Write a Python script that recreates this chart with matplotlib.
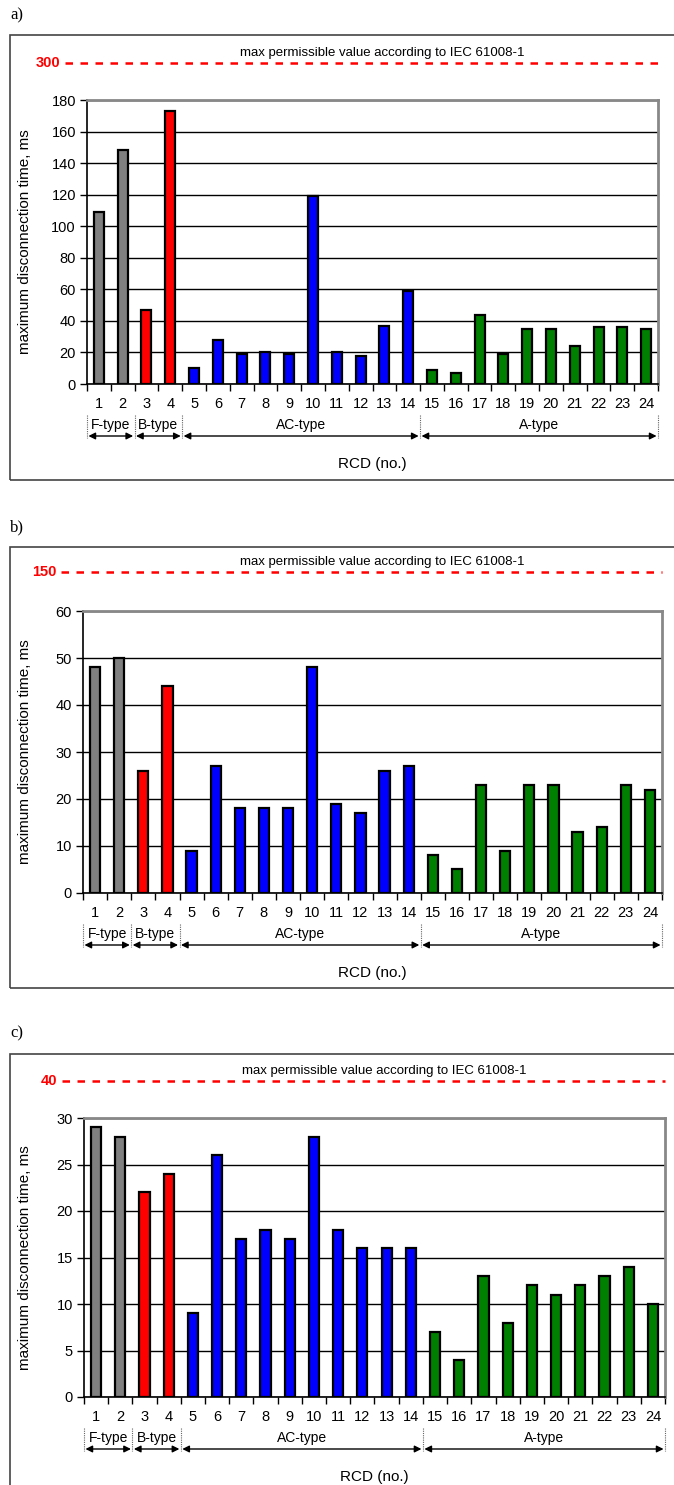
import numpy as np
import matplotlib.pyplot as plt
from matplotlib.patches import Rectangle

rcd = list(range(1, 25))
times_a = [109, 148, 47, 173, 10, 28, 19, 20, 19, 119, 20, 18, 37, 59,
           9, 7, 44, 19, 35, 35, 24, 36, 36, 35]
times_b = [48, 50, 26, 44, 9, 27, 18, 18, 18, 48, 19, 17, 26, 27,
           8, 5, 23, 9, 23, 23, 13, 14, 23, 22]
times_c = [29, 28, 22, 24, 9, 26, 17, 18, 17, 28, 18, 16, 16, 16,
           7, 4, 13, 8, 12, 11, 12, 13, 14, 10]
limits = [300, 150, 40]
ymax = [180, 60, 30]
ystep = [20, 10, 5]
panel_labels = ["a)", "b)", "c)"]

groups = ["F-type", "B-type", "AC-type", "A-type"]
group_bounds = [0.5, 2.5, 4.5, 14.5, 24.5]
group_colors = ["#808080", "#FF0000", "#0000FF", "#008000"]
colors = []
for g in range(4):
    n = int(group_bounds[g + 1] - group_bounds[g])
    colors += [group_colors[g]] * n

W, H = 674, 1485
fig = plt.figure(figsize=(W / 100, H / 100), dpi=100)
plt.rcParams['font.family'] = ['Liberation Sans', 'DejaVu Sans']

# pixel layout of each panel: axes l, r, top, bottom; frame top, bottom; label y; limit line y
layout = [
    dict(l=87, r=658, t=100, b=384, ft=35, fb=480, lab=15, lim=63),
    dict(l=83, r=662, t=611, b=893, ft=547, fb=988, lab=527, lim=572),
    dict(l=84, r=665, t=1118, b=1397, ft=1054, fb=1530, lab=1033, lim=1081),
]


def fx(px):
    return px / W


def fy(py):
    return 1 - py / H


datasets = [times_a, times_b, times_c]
for i in range(3):
    L = layout[i]
    # outer frame
    fig.patches.append(Rectangle((fx(10), fy(L['fb'])), fx(700) - fx(10), fy(L['ft']) - fy(L['fb']),
                                 transform=fig.transFigure, fill=False, edgecolor='#444444', lw=1.2))
    fig.text(fx(10), fy(L['lab']), panel_labels[i], family='Liberation Serif', fontsize=12,
             va='center', ha='left')

    ax = fig.add_axes([fx(L['l']), fy(L['b']), fx(L['r']) - fx(L['l']), fy(L['t']) - fy(L['b'])])
    ax.bar(rcd, datasets[i], width=0.42, color=colors, edgecolor='black', linewidth=1.6, zorder=3)
    ax.set_xlim(0.5, 24.5)
    ax.set_ylim(0, ymax[i])
    ax.set_yticks(np.arange(0, ymax[i] + 1, ystep[i]))
    ax.yaxis.grid(True, color='black', lw=1, zorder=0)
    ax.set_axisbelow(True)
    ax.set_xticks(rcd)
    ax.set_xticklabels([str(n) for n in rcd])
    ax.set_xticks(np.arange(0.5, 25, 1), minor=True)
    ax.tick_params(axis='x', which='major', length=0, pad=9.5, labelsize=10.5)
    ax.tick_params(axis='x', which='minor', length=5, width=1, direction='out')
    ax.tick_params(axis='y', length=5, width=1, direction='out', labelsize=10.5, pad=3)
    for s in ['top', 'right']:
        ax.spines[s].set_color('#888888')
        ax.spines[s].set_linewidth(2)
    for s in ['left', 'bottom']:
        ax.spines[s].set_color('black')
        ax.spines[s].set_linewidth(1.2)
    wpx = L['r'] - L['l']
    ax.set_ylabel("maximum disconnection time, ms", fontsize=11)
    ax.yaxis.set_label_coords((32 - L['l']) / wpx, 0.5)

    hpx = L['b'] - L['t']

    def af(py):
        return (L['b'] - py) / hpx

    trans = ax.get_xaxis_transform()
    # permissible limit line
    ylim_line = af(L['lim'])
    x_start = ax.transData.inverted().transform(fig.transFigure.transform((fx(L['l'] - 22), 0)))[0]
    ax.plot([x_start, 24.5], [ylim_line, ylim_line], transform=trans, color='red', lw=1.8,
            linestyle=(0, (3, 3)), clip_on=False)
    ax.text(x_start - 0.2, ylim_line, str(limits[i]), transform=trans, color='red',
            fontweight='bold', fontsize=10.5, ha='right', va='center', clip_on=False)
    ax.text(12.9, af(L['lim'] - 10), "max permissible value according to IEC 61008-1",
            transform=trans, fontsize=9.5, ha='center', va='center', clip_on=False)

    # type groups below the axis
    y_sep0, y_sep1 = af(L['b'] + 31), af(L['b'] + 54)
    y_txt, y_arr = af(L['b'] + 41), af(L['b'] + 52)
    for xb in group_bounds:
        ax.plot([xb, xb], [y_sep0, y_sep1], transform=trans, color='#666666', lw=0.8,
                linestyle=(0, (1, 1)), clip_on=False)
    for g in range(4):
        x0, x1 = group_bounds[g], group_bounds[g + 1]
        ax.annotate("", xy=(x0 + 0.06, y_arr), xytext=(x1 - 0.06, y_arr), xycoords=trans,
                    textcoords=trans, annotation_clip=False,
                    arrowprops=dict(arrowstyle='<|-|>', color='black', lw=1.0,
                                    mutation_scale=10, shrinkA=0, shrinkB=0))
        ax.text((x0 + x1) / 2, y_txt, groups[g], transform=trans, fontsize=10,
                ha='center', va='center', clip_on=False)
    ax.text(12.5, af(L['b'] + 80), "RCD (no.)", transform=trans, fontsize=11,
            ha='center', va='center', clip_on=False)

fig.savefig("out.png", dpi=100)
